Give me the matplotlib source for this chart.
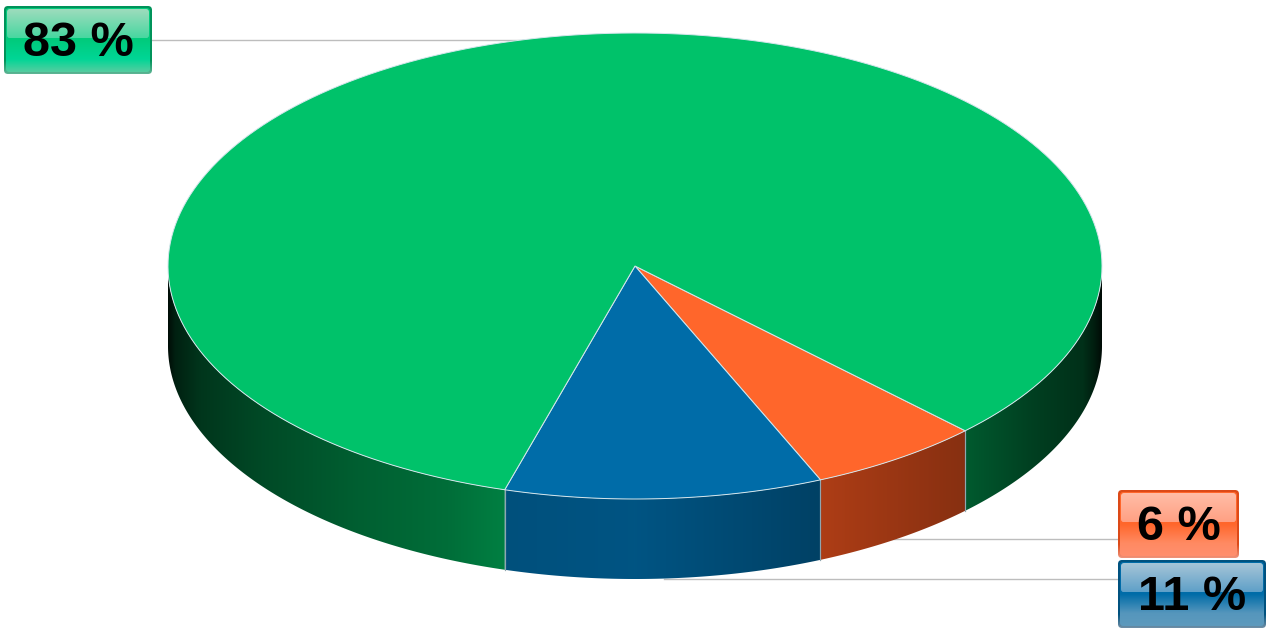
import numpy as np
import matplotlib
matplotlib.use("Agg")
import matplotlib.pyplot as plt
from matplotlib.patches import Polygon, FancyBboxPatch
from matplotlib.colors import to_rgb

# slices go clockwise from the start angle
labels = ["6 %", "11 %", "83 %"]
values = [6, 11, 83]
top_colors = ["#FF662B", "#006CA8", "#00C26A"]
wall_colors = ["#FF5A20", "#006CA8", "#00C164"]

# label button colours: rim, highlight top/bottom, body top/bottom, bottom band
rim_colors = [("#DC4A18", "#F0937A"), ("#00527F", "#6F8FA6"), ("#00935A", "#5FB595")]
shine_colors = [("#FFBEA8", "#FFA083"), ("#A8C6D8", "#5FA0C8"), ("#A0DCBE", "#48D7A0")]
body_colors = [("#FF662B", "#FF8A62"), ("#006CA8", "#5596BC"), ("#00CB7C", "#00D696")]
band_colors = ["#FF8F6E", "#5E9ABD", "#55CDA0"]

# wall brightness across the width of the pie
shade_u = [-1.0, -0.985, -0.93, -0.8, -0.6, -0.4, -0.28, -0.279, 0.0, 0.399, 0.4, 0.706, 0.707, 0.85, 0.96, 0.985, 1.0]
shade_k = [0.07, 0.17, 0.28, 0.38, 0.49, 0.57, 0.66, 0.74, 0.78, 0.6, 0.68, 0.53, 0.47, 0.33, 0.25, 0.15, 0.06]

cx, cy, rx, ry, depth = 635, 266, 467, 233, 80
start = 45

plt.rcParams['font.family'] = ['Liberation Sans', 'DejaVu Sans']
fig = plt.figure(figsize=(12.73, 6.32), dpi=100)
ax = fig.add_axes([0, 0, 1, 1])
ax.set_xlim(0, 1273)
ax.set_ylim(632, 0)
ax.axis("off")


def rim(a1, a2, dy=0):
    t = np.radians(np.linspace(a1, a2, 200))
    return np.column_stack([cx + rx * np.cos(t), cy + dy + ry * np.sin(t)])


def draw_wall(a1, a2, col):
    a1, a2 = max(a1, 0), min(a2, 180)
    if a2 <= a1:
        return
    pts = np.vstack([rim(a1, a2), rim(a1, a2, depth)[::-1]])
    poly = Polygon(pts, closed=True, fc="none", ec="none", zorder=2)
    ax.add_patch(poly)
    u = np.linspace(-1, 1, 934)
    k = np.interp(u, shade_u, shade_k)
    img = np.array(to_rgb(col))[None, None, :] * k[None, :, None]
    im = ax.imshow(img, extent=[cx - rx, cx + rx, cy + ry + depth, cy], aspect="auto",
                   zorder=2, interpolation="bilinear")
    im.set_clip_path(poly)
    for a in (a1, a2):
        if 0 < a < 180:
            x = cx + rx * np.cos(np.radians(a))
            y = cy + ry * np.sin(np.radians(a))
            ax.plot([x, x], [y, y + depth], color="#8fa6b0", lw=0.8, zorder=3)


def grad_box(x, y, w, h, radius, stops, z):
    # rounded box with a vertical gradient, stops are (pos, colour)
    box = FancyBboxPatch((x, y), w, h, boxstyle="round,pad=0,rounding_size=%g" % radius,
                         fc="none", ec="none", zorder=z)
    ax.add_patch(box)
    pos = [s[0] for s in stops]
    cols = np.array([to_rgb(s[1]) for s in stops])
    r = np.linspace(0, 1, int(h) * 2)
    img = np.stack([np.interp(r, pos, cols[:, c]) for c in range(3)], axis=1)[:, None, :]
    im = ax.imshow(img, extent=[x, x + w, y + h, y], aspect="auto", zorder=z,
                   interpolation="bilinear")
    im.set_clip_path(box)


def draw_label(x, y, w, h, text, i):
    grad_box(x, y, w, h, 4, [(0, rim_colors[i][0]), (0.8, rim_colors[i][0]), (1, rim_colors[i][1])], 5)
    grad_box(x + 2, y + 2, w - 4, h - 4, 3,
             [(0, body_colors[i][0]), (0.5, body_colors[i][0]), (0.8, body_colors[i][1]),
              (1, band_colors[i])], 5.1)
    grad_box(x + 3, y + 3, w - 6, h * 0.43, 3,
             [(0, shine_colors[i][0]), (1, shine_colors[i][1])], 5.2)
    ax.text(x + w / 2, y + h / 2 + 3, text, ha="center", va="center", fontsize=35,
            fontweight="bold", color="black", zorder=7)


angles = start + np.cumsum([0] + values) * 3.6

# walls first, then the top face
for i in range(len(values)):
    draw_wall(angles[i], angles[i + 1], wall_colors[i])
    if angles[i + 1] > 360:
        draw_wall(angles[i] - 360, angles[i + 1] - 360, wall_colors[i])

for i in range(len(values)):
    pts = np.vstack([[cx, cy], rim(angles[i], angles[i + 1])])
    ax.add_patch(Polygon(pts, closed=True, fc=top_colors[i], ec="#d5e6ec", lw=0.7, zorder=4))

# leader lines, they run behind the pie
ax.plot([150, 530], [40, 40], color="#bdbdbd", lw=1, zorder=1)
ax.plot([880, 1118], [539, 539], color="#bdbdbd", lw=1, zorder=1)
ax.plot([664, 1118], [579, 579], color="#bdbdbd", lw=1, zorder=1)

draw_label(4, 6, 148, 68, labels[2], 2)
draw_label(1118, 490, 121, 68, labels[0], 0)
draw_label(1118, 560, 148, 68, labels[1], 1)

ax.set_xlim(0, 1273)
ax.set_ylim(632, 0)
fig.savefig("out.png", dpi=100)
